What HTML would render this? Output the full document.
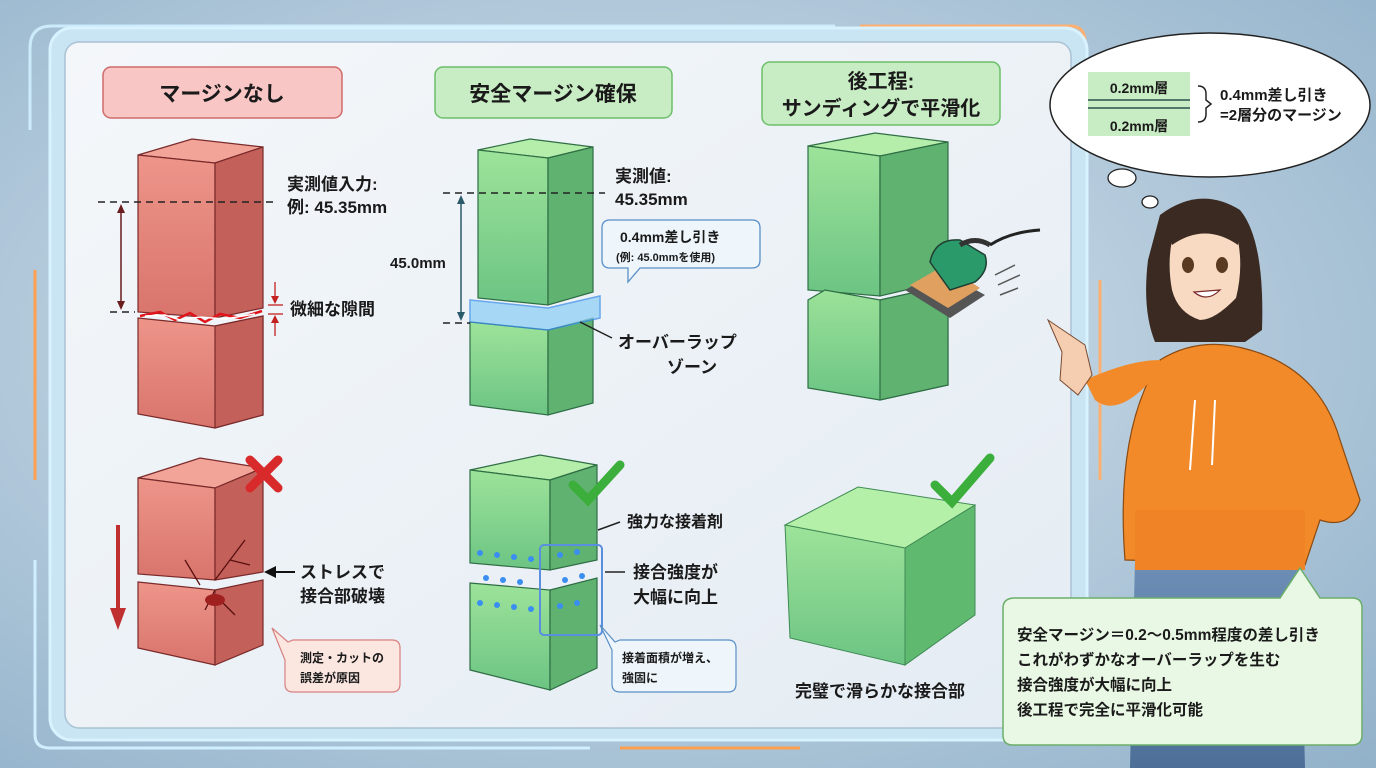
<!DOCTYPE html>
<html><head><meta charset="utf-8"><style>
html,body{margin:0;padding:0;width:1376px;height:768px;overflow:hidden}
svg{display:block}
text{font-family:"Liberation Sans","Noto Sans CJK JP",sans-serif;font-weight:bold;fill:#1a1a1a}
</style></head><body>
<svg width="1376" height="768" viewBox="0 0 1376 768" xmlns="http://www.w3.org/2000/svg">
<defs>
<radialGradient id="bg" cx="0.45" cy="0.45" r="0.8">
<stop offset="0" stop-color="#dbe6ef"/><stop offset="1" stop-color="#8fb0c9"/></radialGradient>
<linearGradient id="panel" x1="0" y1="0" x2="1" y2="1">
<stop offset="0" stop-color="#f4f7fa"/><stop offset="1" stop-color="#e4ecf3"/></linearGradient>
<linearGradient id="redF" x1="0" y1="0" x2="0" y2="1"><stop offset="0" stop-color="#ee958a"/><stop offset="1" stop-color="#d8746c"/></linearGradient>
<linearGradient id="grnF" x1="0" y1="0" x2="0" y2="1"><stop offset="0" stop-color="#9de39a"/><stop offset="1" stop-color="#6cc483"/></linearGradient>
<linearGradient id="jean" x1="0" y1="0" x2="0" y2="1"><stop offset="0" stop-color="#6d8fb6"/><stop offset="1" stop-color="#4d6f98"/></linearGradient>
</defs>
<rect width="1376" height="768" fill="url(#bg)"/>
<path d="M30 130 V48 Q30 26 52 26 H835" stroke="#cfefff" stroke-width="3" fill="none" opacity="0.9"/>
<path d="M860 26 H1070 Q1085 26 1085 42 V60" stroke="#ffb070" stroke-width="3" fill="none"/>
<path d="M35 270 V480" stroke="#ffa050" stroke-width="3"/>
<path d="M35 560 V735 Q35 748 50 748 H590" stroke="#cfefff" stroke-width="3" fill="none"/>
<path d="M620 748 H800" stroke="#ffa050" stroke-width="3"/>
<path d="M1100 280 V480" stroke="#ffb070" stroke-width="3"/>
<rect x="50" y="28" width="1037" height="712" rx="22" fill="#c9e4f2" stroke="#d8f2ff" stroke-width="3"/>
<rect x="65" y="42" width="1006" height="686" rx="14" fill="url(#panel)" stroke="#aac2d4" stroke-width="1.5"/>
<rect x="103" y="67" width="239" height="51" rx="8" fill="#f8c6c4" stroke="#cf6b6b" stroke-width="1.5"/>
<text x="222" y="101" font-size="21" text-anchor="middle">マージンなし</text>
<rect x="435" y="67" width="237" height="51" rx="8" fill="#c8ecc3" stroke="#6cbf6a" stroke-width="1.5"/>
<text x="553" y="101" font-size="21" text-anchor="middle">安全マージン確保</text>
<rect x="762" y="62" width="238" height="63" rx="8" fill="#c8ecc3" stroke="#6cbf6a" stroke-width="1.5"/>
<text x="881" y="88" font-size="20" text-anchor="middle">後工程:</text>
<text x="881" y="115" font-size="20" text-anchor="middle">サンディングで平滑化</text>

<g stroke="#7a2a2a" stroke-width="1.2">
<polygon points="138,155 192,139 263,147 215,163" fill="#f2a499"/>
<polygon points="138,155 215,163 215,318 138,312" fill="url(#redF)"/>
<polygon points="215,163 263,147 263,308 215,318" fill="#c4605a"/>
<polygon points="138,318 215,326 263,316 263,415 215,428 138,414" fill="url(#redF)"/>
<polygon points="215,326 263,316 263,415 215,428" fill="#c4605a"/>
</g>
<path d="M140 316 L160 312 L175 320 L190 313 L205 322 L220 314 L240 318 L262 311" stroke="#e0141a" stroke-width="2.5" fill="none"/>
<path d="M145 316 L165 315 L180 320 L200 317 L225 319 L255 314" stroke="#fff" stroke-width="1.5" fill="none"/>
<line x1="98" y1="202" x2="275" y2="202" stroke="#222" stroke-width="1.5" stroke-dasharray="7,5"/>
<line x1="110" y1="312" x2="135" y2="312" stroke="#222" stroke-width="1.5" stroke-dasharray="7,5"/>
<line x1="121" y1="207" x2="121" y2="308" stroke="#6b1c1c" stroke-width="1.5"/>
<polygon points="121,204 117,213 125,213" fill="#6b1c1c"/><polygon points="121,310 117,301 125,301" fill="#6b1c1c"/>
<text x="287" y="190" font-size="17">実測値入力:</text>
<text x="287" y="213" font-size="17">例: 45.35mm</text>
<g stroke="#c42020" stroke-width="1.3"><line x1="275" y1="282" x2="275" y2="302"/><line x1="275" y1="322" x2="275" y2="336"/><line x1="268" y1="305" x2="283" y2="305"/><line x1="268" y1="314" x2="283" y2="314"/></g>
<polygon points="275,304 271,296 279,296" fill="#c42020"/><polygon points="275,315 271,323 279,323" fill="#c42020"/>
<text x="290" y="315" font-size="17">微細な隙間</text>

<g stroke="#2f6e45" stroke-width="1.2">
<polygon points="478,150 530,139 593,147 548,158" fill="#b5eeaa"/>
<polygon points="478,150 548,158 548,305 478,298" fill="url(#grnF)"/>
<polygon points="548,158 593,147 593,292 548,305" fill="#5fb26f"/>
<polygon points="470,322 548,330 548,415 470,405" fill="url(#grnF)"/>
<polygon points="548,330 593,318 593,403 548,415" fill="#5fb26f"/>
</g>
<polygon points="470,300 548,308 600,296 600,318 548,330 470,322" fill="#8fd0f5" opacity="0.75" stroke="#3c8ee8" stroke-width="1.5"/>
<line x1="443" y1="193" x2="605" y2="193" stroke="#222" stroke-width="1.5" stroke-dasharray="7,5"/>
<line x1="443" y1="323" x2="470" y2="323" stroke="#222" stroke-width="1.5" stroke-dasharray="7,5"/>
<line x1="461" y1="198" x2="461" y2="318" stroke="#2b5a6b" stroke-width="1.5"/>
<polygon points="461,195 457,204 465,204" fill="#2b5a6b"/><polygon points="461,321 457,312 465,312" fill="#2b5a6b"/>
<text x="390" y="268" font-size="15">45.0mm</text>
<text x="615" y="182" font-size="17">実測値:</text>
<text x="615" y="205" font-size="17">45.35mm</text>
<path d="M610 220 H752 Q760 220 760 228 V260 Q760 268 752 268 H640 L628 282 L628 268 H610 Q602 268 602 260 V228 Q602 220 610 220Z" fill="#eef6fc" stroke="#5a8fc8" stroke-width="1.3"/>
<text x="620" y="242" font-size="14">0.4mm差し引き</text>
<text x="616" y="261" font-size="11">(例: 45.0mmを使用)</text>
<line x1="580" y1="322" x2="612" y2="338" stroke="#222" stroke-width="1.5"/>
<text x="618" y="348" font-size="17">オーバーラップ</text>
<text x="667" y="373" font-size="17">ゾーン</text>

<g stroke="#2f6e45" stroke-width="1.2">
<polygon points="808,146 875,133 948,142 880,156" fill="#b5eeaa"/>
<polygon points="808,146 880,156 880,296 808,290" fill="url(#grnF)"/>
<polygon points="880,156 948,142 948,280 880,296" fill="#5fb26f"/>
<polygon points="808,300 825,290 880,300 948,285 948,385 880,400 808,388" fill="url(#grnF)"/>
<polygon points="880,300 948,285 948,385 880,400" fill="#5fb26f"/>
</g>
<polygon points="905,290 940,270 985,295 950,318" fill="#555"/>
<polygon points="910,285 945,265 980,288 948,308" fill="#e0a060"/>
<path d="M930 262 Q935 238 960 240 L985 255 Q990 270 975 282 L950 290 Z" fill="#2b9a6a" stroke="#1f3f33" stroke-width="1.5"/>
<path d="M960 245 Q975 236 990 245" stroke="#333" stroke-width="5" fill="none"/>
<path d="M990 245 Q1010 232 1040 230" stroke="#222" stroke-width="3" fill="none"/>
<g stroke="#555" stroke-width="1.5"><line x1="995" y1="275" x2="1015" y2="265"/><line x1="998" y1="285" x2="1020" y2="275"/><line x1="1000" y1="295" x2="1018" y2="288"/></g>

<g stroke="#7a2a2a" stroke-width="1.2">
<polygon points="138,478 200,458 263,468 215,488" fill="#f2a499"/>
<polygon points="138,478 215,488 215,580 138,574" fill="url(#redF)"/>
<polygon points="215,488 263,468 263,572 215,580" fill="#c4605a"/>
<polygon points="138,582 215,590 215,665 138,648" fill="url(#redF)"/>
<polygon points="215,590 263,580 263,645 215,665" fill="#c4605a"/>
</g>
<g stroke="#5a1010" stroke-width="1.3" fill="none"><path d="M215 580 L230 560 L245 540 M230 560 L250 565 M215 590 L205 610 M215 595 L235 615 M200 585 L185 560"/></g>
<ellipse cx="215" cy="600" rx="10" ry="6" fill="#a02020"/>
<path d="M250 460 L278 488 M278 460 L250 488" stroke="#d82a2a" stroke-width="9" stroke-linecap="round"/>
<line x1="118" y1="525" x2="118" y2="610" stroke="#c03030" stroke-width="4"/>
<polygon points="118,630 110,608 126,608" fill="#c03030"/>
<line x1="270" y1="572" x2="295" y2="572" stroke="#111" stroke-width="2"/>
<polygon points="264,572 276,566 276,578" fill="#111"/>
<text x="300" y="578" font-size="17">ストレスで</text>
<text x="300" y="602" font-size="17">接合部破壊</text>
<path d="M293 640 H392 Q400 640 400 648 V684 Q400 692 392 692 H293 Q285 692 285 684 V660 L272 628 L288 642Z" fill="#fbe6e0" stroke="#d88080" stroke-width="1.2"/>
<text x="300" y="662" font-size="12">測定・カットの</text>
<text x="300" y="682" font-size="12">誤差が原因</text>

<g stroke="#2f6e45" stroke-width="1.2">
<polygon points="470,470 540,455 597,465 550,480" fill="#b5eeaa"/>
<polygon points="470,470 550,480 550,570 470,563" fill="url(#grnF)"/>
<polygon points="550,480 597,465 597,560 550,570" fill="#5fb26f"/>
<polygon points="470,583 550,590 550,690 470,670" fill="url(#grnF)"/>
<polygon points="550,590 597,578 597,668 550,690" fill="#5fb26f"/>
</g>
<g fill="#3a8ef0">
<circle cx="480" cy="553" r="3"/><circle cx="497" cy="555" r="3"/><circle cx="514" cy="557" r="3"/><circle cx="531" cy="559" r="3"/><circle cx="560" cy="555" r="3"/><circle cx="577" cy="552" r="3"/>
<circle cx="486" cy="578" r="3"/><circle cx="503" cy="580" r="3"/><circle cx="520" cy="582" r="3"/><circle cx="565" cy="580" r="3"/><circle cx="582" cy="576" r="3"/>
<circle cx="480" cy="603" r="3"/><circle cx="497" cy="605" r="3"/><circle cx="514" cy="607" r="3"/><circle cx="531" cy="609" r="3"/><circle cx="560" cy="606" r="3"/><circle cx="577" cy="603" r="3"/>
</g>
<rect x="540" y="545" width="62" height="90" rx="4" fill="none" stroke="#5a8fe0" stroke-width="2"/>
<path d="M573 485 L588 500 L620 465" stroke="#3cae3c" stroke-width="9" fill="none" stroke-linecap="round"/>
<line x1="598" y1="530" x2="620" y2="522" stroke="#222" stroke-width="1.5"/>
<text x="627" y="527" font-size="16">強力な接着剤</text>
<line x1="605" y1="572" x2="625" y2="572" stroke="#222" stroke-width="1.5"/>
<text x="633" y="578" font-size="17">接合強度が</text>
<text x="633" y="603" font-size="17">大幅に向上</text>
<path d="M620 640 H728 Q736 640 736 648 V684 Q736 692 728 692 H620 Q612 692 612 684 V650 L600 625 L615 642Z" fill="#eef6fc" stroke="#5a8fc8" stroke-width="1.2"/>
<text x="622" y="662" font-size="12">接着面積が増え、</text>
<text x="622" y="682" font-size="12">強固に</text>

<g stroke="#3f8a55" stroke-width="1">
<polygon points="785,525 858,487 975,505 905,548" fill="#b5f0a8"/>
<polygon points="785,525 905,548 905,665 790,638" fill="url(#grnF)"/>
<polygon points="905,548 975,505 975,615 905,665" fill="#5fba70"/>
</g>
<path d="M935 485 L952 502 L990 458" stroke="#3cae3c" stroke-width="9" fill="none" stroke-linecap="round"/>
<text x="880" y="697" font-size="17" text-anchor="middle">完璧で滑らかな接合部</text>

<ellipse cx="1210" cy="105" rx="160" ry="72" fill="#fff" stroke="#222" stroke-width="1.5"/>
<ellipse cx="1122" cy="178" rx="14" ry="9" fill="#fff" stroke="#222" stroke-width="1.3"/>
<ellipse cx="1150" cy="202" rx="8" ry="6" fill="#fff" stroke="#222" stroke-width="1.3"/>
<rect x="1088" y="72" width="102" height="64" fill="#c8ecc3"/>
<line x1="1088" y1="100" x2="1190" y2="100" stroke="#2a5050" stroke-width="1.5"/>
<line x1="1088" y1="108" x2="1190" y2="108" stroke="#2a5050" stroke-width="1.5"/>
<text x="1139" y="93" font-size="14" text-anchor="middle">0.2mm層</text>
<text x="1139" y="131" font-size="14" text-anchor="middle">0.2mm層</text>
<path d="M1198 86 Q1206 86 1206 94 V100 L1211 104 L1206 108 V114 Q1206 122 1198 122" stroke="#222" stroke-width="1.5" fill="none"/>
<text x="1220" y="100" font-size="15">0.4mm差し引き</text>
<text x="1220" y="120" font-size="15">=2層分のマージン</text>

<!-- character -->
<path d="M1130 768 L1135 560 L1300 560 L1305 768Z" fill="url(#jean)"/>
<path d="M1160 215 Q1200 185 1240 210 Q1265 240 1262 330 L1245 342 L1155 342 Q1142 310 1148 260Z" fill="#3a2a22"/>
<path d="M1125 560 Q1115 430 1160 360 Q1200 335 1250 350 Q1320 370 1340 440 L1360 500 Q1350 530 1320 520 L1305 565 Z" fill="#f28a2a" stroke="#8a4a10" stroke-width="1.2"/>
<path d="M1160 370 Q1120 420 1095 400 L1085 380 Q1130 360 1160 360Z" fill="#f28a2a"/>
<rect x="1135" y="510" width="170" height="60" fill="#ef8325"/>
<path d="M1048 320 L1085 345 L1092 375 L1078 395 L1060 380 L1062 352Z" fill="#f5cdb0" stroke="#7a4a30" stroke-width="1"/>
<path d="M1175 228 Q1205 210 1235 228 Q1245 262 1236 298 Q1215 320 1200 320 Q1178 313 1172 290 Q1166 258 1175 228Z" fill="#f8d9c2"/>
<path d="M1165 220 Q1205 195 1242 222 L1238 245 Q1205 222 1172 245Z" fill="#3a2a22"/>
<ellipse cx="1188" cy="265" rx="6" ry="8" fill="#5a3a20"/><ellipse cx="1222" cy="265" rx="6" ry="8" fill="#5a3a20"/>
<path d="M1194 292 Q1207 303 1220 290 Z" fill="#fff" stroke="#7a2a2a" stroke-width="1.2"/>
<line x1="1195" y1="400" x2="1190" y2="470" stroke="#fff" stroke-width="2"/><line x1="1215" y1="400" x2="1212" y2="465" stroke="#fff" stroke-width="2"/>

<path d="M1015 598 H1280 L1300 568 L1320 598 H1352 Q1362 598 1362 608 V735 Q1362 745 1352 745 H1013 Q1003 745 1003 735 V608 Q1003 598 1015 598Z" fill="#e9f8e4" stroke="#6cae6a" stroke-width="1.5"/>
<text x="1017" y="640" font-size="15.5">安全マージン＝0.2〜0.5mm程度の差し引き</text>
<text x="1017" y="665" font-size="15.5">これがわずかなオーバーラップを生む</text>
<text x="1017" y="690" font-size="15.5">接合強度が大幅に向上</text>
<text x="1017" y="715" font-size="15.5">後工程で完全に平滑化可能</text>
</svg>
</body></html>
